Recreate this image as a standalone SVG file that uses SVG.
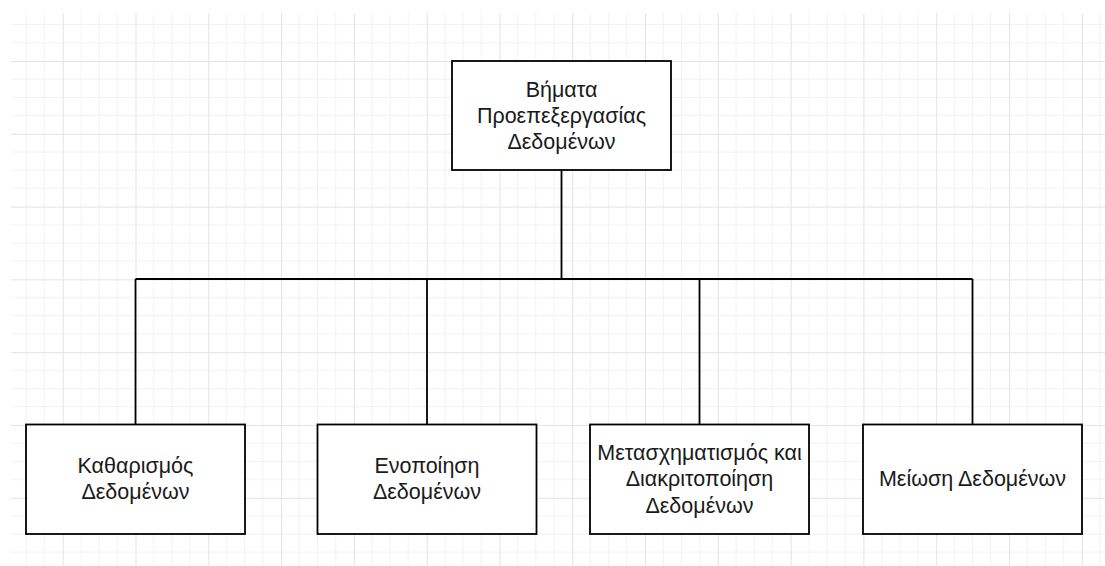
<svg xmlns="http://www.w3.org/2000/svg" width="1105" height="566" viewBox="0 0 1105 566">
  <defs>
    <!-- background grid: one major cell subdivided into four minor cells -->
    <pattern id="grid" patternUnits="userSpaceOnUse" x="62.7" y="61" width="72.79" height="72.79">
      <path d="M18.2 0V72.79M36.4 0V72.79M54.6 0V72.79M0 18.2H72.79M0 36.4H72.79M0 54.6H72.79" fill="none" stroke="#f2f2f2" stroke-width="1"/>
      <path d="M0.5 0V72.79M0 0.5H72.79" fill="none" stroke="#e3e3e3" stroke-width="1"/>
    </pattern>
    <style>
      .box { fill: #ffffff; stroke: #000000; stroke-width: 1.8; }
      .wire { fill: none; stroke: #000000; stroke-width: 1.8; }
      .label { font-family: "Liberation Sans", Arial, sans-serif; font-size: 21.5px; fill: #1a1a1a; text-anchor: middle; }
    </style>
  </defs>

  <rect x="0" y="0" width="1105" height="566" fill="#ffffff"/>
  <rect x="11" y="13" width="1094" height="553" fill="url(#grid)"/>

  <g id="connectors">
    <path class="wire" d="M561.5 170V279"/>
    <path class="wire" d="M135.5 279H972.5"/>
    <path class="wire" d="M135.5 279V424"/>
    <path class="wire" d="M427 279V424"/>
    <path class="wire" d="M699.5 279V424"/>
    <path class="wire" d="M972.5 279V424"/>
  </g>

  <g id="root">
    <rect class="box" x="452" y="61" width="219" height="109"/>
    <text class="label" x="561.5" y="96.5">Βήματα</text>
    <text class="label" x="561.5" y="122.8">Προεπεξεργασίας</text>
    <text class="label" x="561.5" y="149.1">Δεδομένων</text>
  </g>

  <g id="cleaning">
    <rect class="box" x="26" y="424.5" width="219" height="109.5"/>
    <text class="label" x="135.5" y="473">Καθαρισμός</text>
    <text class="label" x="135.5" y="499.3">Δεδομένων</text>
  </g>

  <g id="integration">
    <rect class="box" x="317.5" y="424.5" width="219" height="109.5"/>
    <text class="label" x="427" y="473">Ενοποίηση</text>
    <text class="label" x="427" y="499.3">Δεδομένων</text>
  </g>

  <g id="transformation">
    <rect class="box" x="590" y="424.5" width="219" height="109.5"/>
    <text class="label" x="699.5" y="460">Μετασχηματισμός και</text>
    <text class="label" x="699.5" y="486.3">Διακριτοποίηση</text>
    <text class="label" x="699.5" y="512.6">Δεδομένων</text>
  </g>

  <g id="reduction">
    <rect class="box" x="863" y="424.5" width="219" height="109.5"/>
    <text class="label" x="972.5" y="486.3">Μείωση Δεδομένων</text>
  </g>
</svg>
